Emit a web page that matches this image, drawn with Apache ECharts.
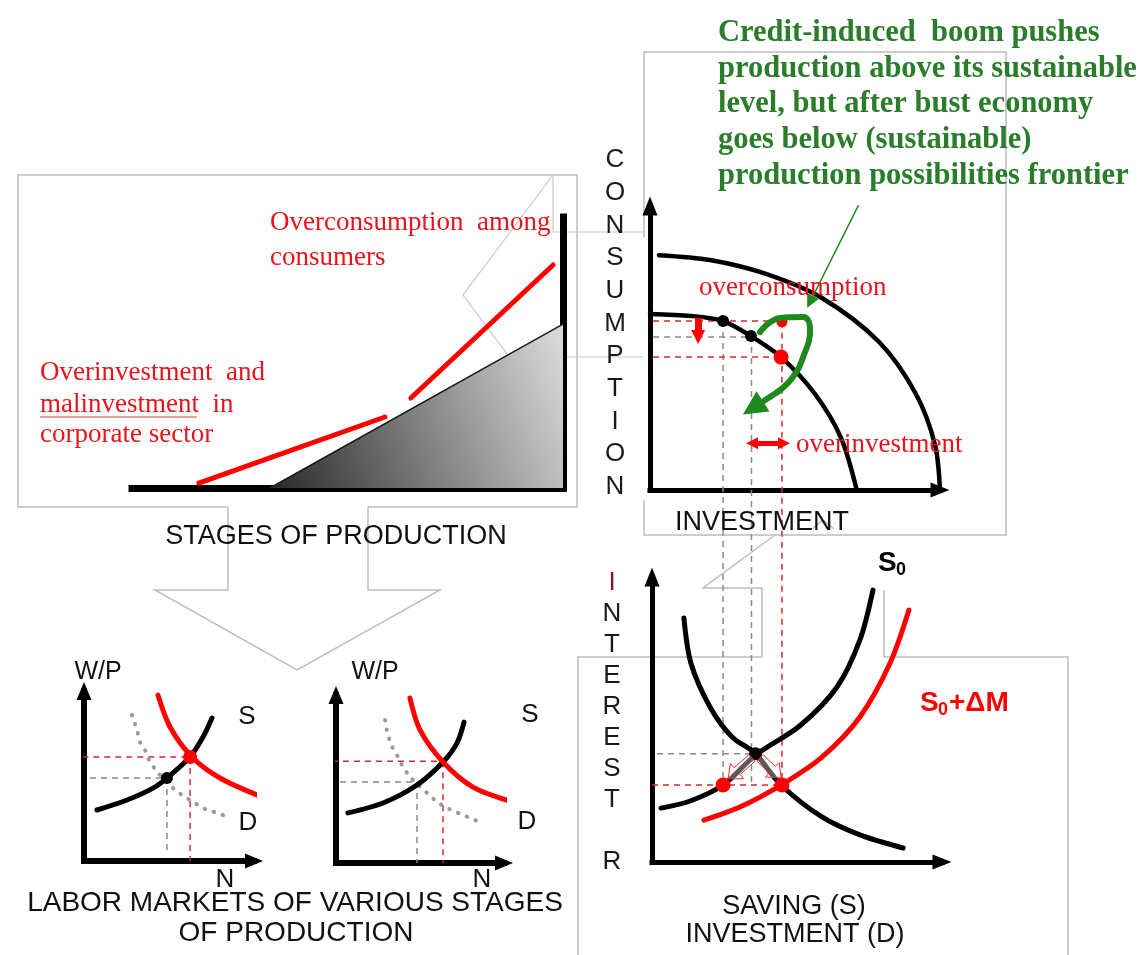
<!DOCTYPE html>
<html><head><meta charset="utf-8">
<script src="https://cdn.jsdelivr.net/npm/echarts@6/dist/echarts.min.js"></script>
<style>html,body{margin:0;padding:0;background:#fff}#c{width:1148px;height:955px}</style>
</head><body><div id="c"></div>
<script>
// ================= DATA (values in each panel's own 0..10 units) =================
// Panel 0: stages of production
const stagesWedge      = [[3.2,0],[10,6.05]];
const overinvestSeg    = [[1.55,0.18],[5.87,2.62]];
const overconsumeSeg   = [[6.47,3.32],[9.77,8.23]];
// Panel 1: production possibilities frontier
const ppfOuter = [[0.31,8.27],[2.07,8.10],[4.0,7.61],[5.93,6.76],[7.90,5.21],[9.17,3.38],[9.83,1.58],[10.0,0]];
const ppfInner = [[0,6.2],[1.41,6.13],[2.52,5.95],[3.48,5.42],[4.52,4.68],[5.69,3.38],[6.59,1.83],[7.13,0]];
const ppfBlackDots = [[2.52,5.95],[3.48,5.42]];
const ppfRedDotSmall = [[4.55,5.92]];
const ppfRedDotBig   = [[4.52,4.68]];
const ppfRedDashed  = [ [[-2.93,5.95],[4.55,5.95]], [[-2.93,4.68],[4.52,4.68]], [[4.55,5.92],[4.55,-13.1]], [[2.52,-10.35],[2.52,-13.1]] ];
const ppfGrayDashed = [ [[-2.93,5.39],[3.48,5.39]], [[2.52,5.95],[2.52,-10.35]], [[3.5,5.42],[3.5,-13.1]] ];
const consumptionDrop = [[1.66,6.06],[1.66,5.39]];
const overinvestGap   = [[3.52,1.65],[4.62,1.65]];
const boomLoop        = [[3.79,5.56],[4.48,6.06],[5.28,6.09],[5.52,5.63],[5.28,4.68],[4.93,3.98],[4.40,3.45]];
const boomLoopHead    = [[4.40,3.45],[3.55,2.89]];
const notePointer     = [[7.45,10.56],[5.52,6.62]];
// Panel 2: saving / investment market
const demandD   = [[1.10,8.56],[1.34,6.98],[2.0,5.44],[2.76,4.39],[3.55,3.82],[4.45,2.70],[5.86,1.58],[7.17,0.95],[8.66,0.49]];
const supplyS0  = [[0.31,1.89],[1.34,2.15],[2.45,2.70],[3.57,3.75],[5.10,4.78],[6.38,6.14],[7.17,7.79],[7.62,9.54]];
const supplyS0M = [[1.79,1.47],[3.03,1.93],[4.45,2.70],[5.86,3.68],[7.17,5.09],[8.21,6.98],[8.86,8.84]];
const sifBlackDot = [[3.57,3.8]];
const sifRedDots  = [[2.45,2.70],[4.48,2.70]];
const sifGrayDashed = [ [[0.17,3.8],[3.57,3.8]] ];
const sifRedDashed  = [ [[0,2.70],[4.48,2.70]] ];
// Panel 3: labor market (left)
const labLRed   = [[4.35,9.76],[5.06,7.88],[6.35,6.12],[8.0,4.88],[10.47,3.76]];
const labLS     = [[0.76,3.0],[2.53,3.59],[4.06,4.29],[4.88,4.88],[6.24,6.12],[7.0,7.29],[7.53,8.41]];
const labLD     = [[2.82,8.59],[3.12,7.71],[3.29,7.0],[3.59,6.53],[3.88,5.82],[4.35,5.18],[4.88,4.65],[5.35,4.18],[5.94,3.76],[6.53,3.41],[7.24,3.0],[7.88,2.82],[8.59,2.53]];
const labLRedDot = [[6.24,6.12]];
const labLBlackDot = [[4.88,4.88]];
const labLRedDashed  = [ [[-0.1,6.12],[6.24,6.12]], [[6.24,6.12],[6.24,0]] ];
const labLGrayDashed = [ [[0.35,4.88],[4.88,4.88]], [[4.88,4.88],[4.88,0.4]] ];
// Panel 4: labor market (right)
const labRRed   = [[4.40,9.82],[5.0,7.92],[6.37,6.01],[8.15,4.52],[10.54,3.63]];
const labRS     = [[0.71,2.98],[2.80,3.57],[4.82,4.64],[6.37,6.01],[7.20,7.14],[7.62,8.39]];
const labRD     = [[2.92,8.51],[3.04,7.80],[3.27,7.02],[3.63,6.43],[3.99,5.71],[4.40,5.12],[4.88,4.64],[5.42,4.17],[6.01,3.63],[6.61,3.27],[7.26,2.98],[7.98,2.68],[8.69,2.38]];
const labRRedDashed  = [ [[-0.24,6.05],[6.37,6.05]], [[6.37,6.05],[6.37,0]] ];
const labRGrayDashed = [ [[0.24,4.82],[4.82,4.82]], [[4.82,4.82],[4.82,0]] ];
// Texts
const greenNote = ['Credit-induced  boom pushes','production above its sustainable','level, but after bust economy','goes below (sustainable)','production possibilities frontier'];
const consumptionLetters = 'CONSUMPTION'.split('');
const interestLetters = ['I','N','T','E','R','E','S','T','','R'];

// ================= CHART =================
const RED = '#ff0000', TRED = '#e8141b', GREEN = '#1e8a1e', GTEXT = '#2a7d2a', GRAY = '#8a8a8a', DRED = '#d42a2a';
const SANS = '"Liberation Sans", Arial, sans-serif', SERIF = '"Liberation Serif", "Times New Roman", serif';

const grids = [
  {left:132, top:217, width:431, height:271},
  {left:650, top:206, width:290, height:284},
  {left:652, top:577, width:290, height:285},
  {left:84,  top:691, width:170, height:170},
  {left:336, top:695, width:168, height:168}
].map(g => Object.assign({outerBoundsMode:'none', containLabel:false}, g));

function axisBase(i){ return {type:'value', gridIndex:i, min:0, max:10, axisTick:{show:false}, axisLabel:{show:false}, splitLine:{show:false}}; }
function arrowLine(w, sz){ return {show:true, onZero:false, symbol:['none','triangle'], symbolSize:sz, lineStyle:{color:'#000', width:w, cap:'square'}}; }
const xAxes = [], yAxes = [];
xAxes.push(Object.assign(axisBase(0), {axisLine:{show:true, onZero:false, lineStyle:{color:'#000', width:7, cap:'square'}}}));
yAxes.push(Object.assign(axisBase(0), {position:'right', axisLine:{show:true, onZero:false, lineStyle:{color:'#000', width:7, cap:'square'}}}));
[1,2].forEach(i => { xAxes.push(Object.assign(axisBase(i), {axisLine:arrowLine(5,[15,19])})); yAxes.push(Object.assign(axisBase(i), {axisLine:arrowLine(5,[15,19])})); });
[3,4].forEach(i => { xAxes.push(Object.assign(axisBase(i), {axisLine:arrowLine(6,[15,18])})); yAxes.push(Object.assign(axisBase(i), {axisLine:arrowLine(6,[15,18])})); });

const series = [];
function line(i, data, color, width, extra){
  series.push(Object.assign({type:'line', xAxisIndex:i, yAxisIndex:i, data, symbol:'none', clip:false, silent:true, z:3,
    lineStyle:{color, width, cap:'round'}}, extra||{}));
}
function dashed(i, segs, color){ segs.forEach(s => line(i, s, color, 1.5, {z:2, lineStyle:{color, width:1.5, type:[6,5]}})); }
function dots(i, data, color, size){ series.push({type:'scatter', xAxisIndex:i, yAxisIndex:i, data, symbolSize:size, itemStyle:{color, opacity:1}, silent:true, z:5}); }
function arrow(i, coords, color, width, syms, size){
  series.push({type:'lines', coordinateSystem:'cartesian2d', xAxisIndex:i, yAxisIndex:i, silent:true, z:4,
    symbol:syms, symbolSize:size, lineStyle:{color, width, opacity:1, curveness:0}, data:[{coords}]});
}

// Panel 0
line(0, stagesWedge, '#1a1a1a', 1.5, {z:1, areaStyle:{opacity:1, color:new echarts.graphic.LinearGradient(0,0.85,1,0.15,[{offset:0,color:'#2e2e2e'},{offset:0.55,color:'#8c8c8c'},{offset:1,color:'#d8d8d8'}])}});
line(0, overinvestSeg, RED, 5);
line(0, overconsumeSeg, RED, 5);
// Panel 1
dashed(1, ppfGrayDashed, GRAY);
dashed(1, ppfRedDashed, DRED);
line(1, ppfOuter, '#000', 4.5, {smooth:0.3});
line(1, ppfInner, '#000', 4.5, {smooth:0.3});
dots(1, ppfBlackDots, '#000', 12);
dots(1, ppfRedDotSmall, RED, 11);
dots(1, ppfRedDotBig, RED, 15);
arrow(1, consumptionDrop, RED, 7, ['none','triangle'], [0,14]);
arrow(1, overinvestGap, RED, 5, ['triangle','triangle'], [12,12]);
line(1, boomLoop, GREEN, 6, {smooth:0.45, z:6});
arrow(1, boomLoopHead, GREEN, 6, ['none','triangle'], [0,24]);
arrow(1, notePointer, GREEN, 1.5, ['none','triangle'], [0,13]);
// Panel 2
dashed(2, sifGrayDashed, GRAY);
dashed(2, sifRedDashed, DRED);
line(2, demandD, '#000', 5, {smooth:0.3});
line(2, supplyS0, '#000', 5, {smooth:0.3});
line(2, supplyS0M, RED, 5, {smooth:0.3});
dots(2, sifBlackDot, '#000', 13);
dots(2, sifRedDots, RED, 15);
// Panel 3 & 4
dashed(3, labLGrayDashed, GRAY); dashed(3, labLRedDashed, DRED);
line(3, labLD, '#9a9a9a', 4, {lineStyle:{color:'#9a9a9a', width:4, type:[0.5,9], cap:'round'}});
line(3, labLS, '#000', 5, {smooth:0.3});
line(3, labLRed, RED, 5, {smooth:0.3});
dots(3, labLRedDot, RED, 14); dots(3, labLBlackDot, '#000', 12);
dashed(4, labRGrayDashed, GRAY); dashed(4, labRRedDashed, DRED);
line(4, labRD, '#9a9a9a', 4, {lineStyle:{color:'#9a9a9a', width:4, type:[0.5,9], cap:'round'}});
line(4, labRS, '#000', 5, {smooth:0.3});
line(4, labRRed, RED, 5, {smooth:0.3});

// ---- decorative frames / hollow connector arrows (layout only) ----
const FR = {stroke:'#bdbdbd', lineWidth:1.5, fill:null};
function pl(points, style){ return {type:'polyline', z:0, silent:true, shape:{points}, style:Object.assign({}, FR, style||{})}; }
function hollowArrow(a, b, shaft, head, hl){
  const dx=b[0]-a[0], dy=b[1]-a[1], L=Math.hypot(dx,dy), ux=dx/L, uy=dy/L, nx=-uy, ny=ux;
  const bx=b[0]-ux*hl, by=b[1]-uy*hl;
  const P=(x,y,k)=>[x+nx*k, y+ny*k];
  return [P(a[0],a[1],shaft/2),P(bx,by,shaft/2),P(bx,by,head/2),b,P(bx,by,-head/2),P(bx,by,-shaft/2),P(a[0],a[1],-shaft/2)];
}
const graphics = [
  pl([[228,507],[18,507],[18,175],[577,175],[577,507],[368,507]]),
  pl([[228,507],[228,590],[155,590],[297,670],[440,590],[368,590],[368,507]]),
  pl([[644,237],[644,52],[1006,52],[1006,535],[644,535],[644,500]]),
  pl([[643,232],[553,232],[553,175],[463,295],[553,415],[553,357],[643,357]], {stroke:'#c8c8c8', lineWidth:1.2}),
  pl([[762,657],[578,657],[578,955]]),
  pl([[884,657],[1068,657],[1068,955]]),
  pl([[762,657],[762,588],[703,588],[775,535]]),
  pl([[884,657],[884,590]]),
  pl([[812,529],[823,520],[834,529]]),
  {type:'polygon', z:7, silent:true, shape:{points:hollowArrow([752,758],[728,779],9,20,12)}, style:{stroke:'#ff2a2a', lineWidth:1, fill:'rgba(255,255,255,0.35)'}},
  {type:'polygon', z:7, silent:true, shape:{points:hollowArrow([760,758],[781,778],9,20,12)}, style:{stroke:'#ff2a2a', lineWidth:1, fill:'rgba(255,255,255,0.35)'}},
  {type:'line', z:10, silent:true, shape:{x1:40,y1:417,x2:197,y2:417}, style:{stroke:'#d04040', lineWidth:1.2}}
];
function txt(text, x, y, font, fill, align, extra){
  graphics.push({type:'text', z:20, silent:true, style:Object.assign({text, x, y, font, fill, align:align||'left', verticalAlign:'middle'}, extra||{})});
}
const serif27 = 'normal 27px ' + SERIF;
txt('Overconsumption  among', 270, 223, serif27, TRED);
txt('consumers', 270, 258, serif27, TRED);
txt('Overinvestment  and', 40, 373, serif27, TRED);
txt('malinvestment  in', 40, 405, serif27, TRED);
txt('corporate sector', 40, 435, serif27, TRED);
txt('STAGES OF PRODUCTION', 336, 537, '27px ' + SANS, '#111', 'center');
greenNote.forEach((t,k) => txt(t, 718, 33 + k*35.75, 'bold 30.5px ' + SERIF, GTEXT));
consumptionLetters.forEach((t,k) => txt(t, 615, 160 + k*32.7, '26px ' + SANS, '#1a1a1a', 'center'));
txt('overconsumption', 699, 288, serif27, TRED);
txt('overinvestment', 796, 445, serif27, TRED);
txt('INVESTMENT', 762, 523, '27px ' + SANS, '#111', 'center');
interestLetters.forEach((t,k) => { if (t) txt(t, 612, 583 + k*31, '26px ' + SANS, k===0 ? '#7a1a2a' : '#1a1a1a', 'center'); });
txt('S', 878, 563, 'bold 28px ' + SANS, '#000');
txt('0', 896, 570, 'bold 18px ' + SANS, '#000');
txt('S', 920, 703, 'bold 28px ' + SANS, RED);
txt('0', 938, 710, 'bold 18px ' + SANS, RED);
txt('+ΔM', 949, 703, 'bold 28px ' + SANS, RED);
txt('SAVING (S)', 794, 907, '27px ' + SANS, '#111', 'center');
txt('INVESTMENT (D)', 795, 935, '27px ' + SANS, '#111', 'center');
txt('W/P', 98, 672, '25px ' + SANS, '#111', 'center');
txt('S', 247, 717, '26px ' + SANS, '#111', 'center');
txt('D', 248, 823, '26px ' + SANS, '#111', 'center');
txt('N', 225, 880, '26px ' + SANS, '#111', 'center');
txt('W/P', 375, 672, '25px ' + SANS, '#111', 'center');
txt('S', 530, 715, '26px ' + SANS, '#111', 'center');
txt('D', 527, 822, '26px ' + SANS, '#111', 'center');
txt('N', 482, 880, '26px ' + SANS, '#111', 'center');
txt('LABOR MARKETS OF VARIOUS STAGES', 295, 903, '28px ' + SANS, '#111', 'center');
txt('OF PRODUCTION', 296, 933, '28px ' + SANS, '#111', 'center');

const chart = echarts.init(document.getElementById('c'));
chart.setOption({
  backgroundColor:'#fff', animation:false,
  grid:grids, xAxis:xAxes, yAxis:yAxes, series, graphic:graphics
});
</script></body></html>
